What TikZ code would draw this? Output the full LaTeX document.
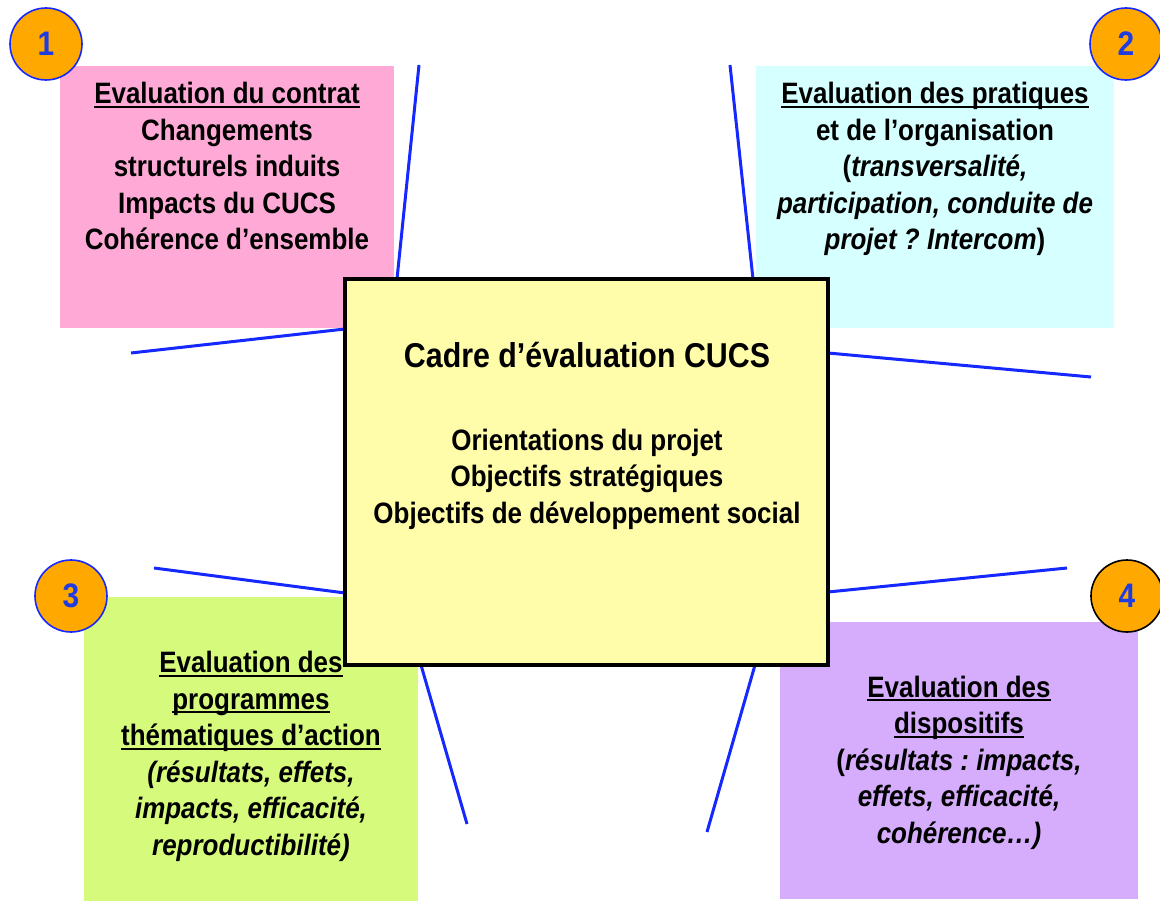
\documentclass[tikz,border=0pt]{standalone}
\usepackage{fontspec}
\setmainfont{Liberation Sans}[FakeStretch=0.88]
\frenchspacing
\definecolor{pinkc}{RGB}{255,170,214}
\definecolor{cyanc}{RGB}{214,255,255}
\definecolor{greenc}{RGB}{214,250,124}
\definecolor{purplec}{RGB}{214,172,252}
\definecolor{yellowc}{RGB}{255,252,170}
\definecolor{orangec}{RGB}{255,168,0}
\definecolor{linec}{RGB}{20,40,255}
\definecolor{numc}{RGB}{30,60,225}
\newcommand{\ulx}[1]{\setbox0\hbox{#1}\rlap{\rule[-4.3pt]{\wd0}{2pt}}\box0}
\begin{document}
\begin{tikzpicture}[x=1pt,y=-1pt,
  colbox/.style={rectangle, draw=none, inner sep=0pt},
  ray/.style={draw=linec, line width=3pt},
  numcirc/.style={circle, fill=orangec, line width=1.6pt, minimum size=72pt, inner sep=0pt,
    text=numc, font=\fontsize{34}{34}\selectfont\bfseries},
  boxtext/.style={align=center, inner sep=0pt, anchor=base,
    font=\fontsize{29.5}{36.5}\selectfont\bfseries\frenchspacing},
  cadre/.style={rectangle, draw=black, line width=3.5pt, fill=yellowc, inner sep=0pt}]
\useasboundingbox (0,0) rectangle (1160,901);
% coloured boxes
\node[colbox, fill=pinkc, minimum width=334pt, minimum height=262pt] (b1) at (227,197) {};
\node[colbox, fill=cyanc, minimum width=358pt, minimum height=262pt] (b2) at (935,197) {};
\node[colbox, fill=greenc, minimum width=334pt, minimum height=304pt] (b3) at (251,749) {};
\node[colbox, fill=purplec, minimum width=358pt, minimum height=277pt] (b4) at (959,760.5) {};
% ray end points
\coordinate (r1a) at (397,279);  \coordinate (r1b) at (419,65);
\coordinate (r2a) at (345,329);  \coordinate (r2b) at (131,353);
\coordinate (r3a) at (753,279);  \coordinate (r3b) at (730,65);
\coordinate (r4a) at (828,353);  \coordinate (r4b) at (1091,377);
\coordinate (r5a) at (345,593);  \coordinate (r5b) at (154,568);
\coordinate (r6a) at (828,592);  \coordinate (r6b) at (1067,568);
\coordinate (r7a) at (421,665);  \coordinate (r7b) at (467,824);
\coordinate (r8a) at (755,665);  \coordinate (r8b) at (707,832);
\foreach \i in {1,...,8} { \draw[ray] (r\i a) -- (r\i b); }
% central box
\node[cadre, minimum width=483pt, minimum height=386pt] (c) at (586.5,472) {};
% number circles
\node[numcirc, draw=linec] (n1) at (46,44) {1};
\node[numcirc, draw=linec] (n2) at (1126,44) {2};
\node[numcirc, draw=linec] (n3) at (71,596) {3};
\node[numcirc, draw=black] (n4) at (1127,596) {4};
% texts (anchor = baseline of last line)
\node[boxtext] (t1) at (227,250) {\ulx{Evaluation du contrat}\\Changements\\structurels induits\\Impacts du CUCS\\Cohérence d’ensemble};
\node[boxtext] (t2) at (935,250) {\ulx{Evaluation des pratiques}\\et de l’organisation\\(\textit{transversalité,}\\\textit{participation, conduite de}\\\textit{projet ? Intercom})};
\node[boxtext] (t3) at (251,855) {\ulx{Evaluation des}\\\ulx{programmes}\\\ulx{thématiques d’action}\\\textit{(résultats, effets,}\\\textit{impacts, efficacité,}\\\textit{reproductibilité)}};
\node[boxtext] (t4) at (959,843) {\ulx{Evaluation des}\\\ulx{dispositifs}\\(\textit{résultats : impacts,}\\\textit{effets, efficacité,}\\\textit{cohérence…)}};
\node[boxtext, font=\fontsize{34.5}{40}\selectfont\bfseries] (ct) at (587,368) {Cadre d’évaluation CUCS};
\node[boxtext] (cb) at (587,523) {Orientations du projet\\Objectifs stratégiques\\Objectifs de développement social};
\end{tikzpicture}
\end{document}
